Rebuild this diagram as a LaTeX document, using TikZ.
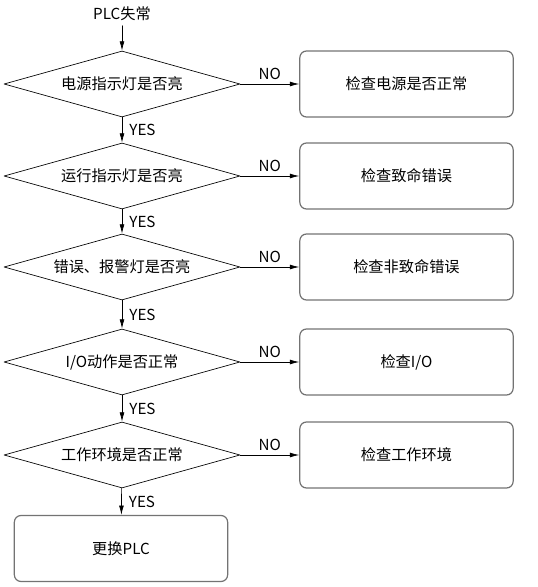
\documentclass[tikz,border=0pt]{standalone}
\usepackage{fontspec}
\setmainfont{Noto Sans CJK SC}
\usepackage{tikz}
\usetikzlibrary{shapes.geometric}
\usetikzlibrary{arrows.meta}
\definecolor{ggggbb}{rgb}{0.45,0.45,0.45}
\tikzstyle{every node}=[font=\fontsize{11.4}{13}\selectfont]

\begin{document}
\begin{tikzpicture}[line cap=round,line join=round,>={Latex[length=7pt,width=3.6pt]},x=0.75pt,y=0.75pt,
  test/.style={diamond,aspect=3.6,draw=black,line width=0.5pt,inner sep=0pt,minimum width=177pt,minimum height=49.5pt},
  check/.style={rectangle,draw=ggggbb,line width=0.9pt,rounded corners=5pt,minimum width=160pt,minimum height=49.5pt},
  flow/.style={->,line width=0.5pt}]
            \useasboundingbox (0,0) rectangle (537,587);
            % start
            \node (start) at (122,573) {PLC失常};
            % tests
            \node [test] (t1) at (122,503) {电源指示灯是否亮};
            \node [test] (t2) at (122,411) {运行指示灯是否亮};
            \node [test] (t3) at (122,320) {错误、报警灯是否亮};
            \node [test] (t4) at (122,225) {I/O动作是否正常};
            \node [test] (t5) at (122,132) {工作环境是否正常};
            % checks
            \node [check] (c1) at (406.5,503) {检查电源是否正常};
            \node [check] (c2) at (406.5,411) {检查致命错误};
            \node [check] (c3) at (406.5,320) {检查非致命错误};
            \node [check] (c4) at (406.5,225) {检查I/O};
            \node [check] (c5) at (406.5,132) {检查工作环境};
            \node [check] (swap) at (121,38.5) {更换PLC};
            % connectors
            \draw [flow] (start) -- (t1);
            \draw [flow] (t1) -- (t2) node [midway,right,xshift=2pt] {YES};
            \draw [flow] (t2) -- (t3) node [midway,right,xshift=2pt] {YES};
            \draw [flow] (t3) -- (t4) node [midway,right,xshift=2pt] {YES};
            \draw [flow] (t4) -- (t5) node [midway,right,xshift=2pt] {YES};
            \draw [flow] (t5) -- (swap) node [midway,right,xshift=2pt] {YES};
            \draw [flow] (t1) -- (c1) node [midway,above] {NO};
            \draw [flow] (t2) -- (c2) node [midway,above] {NO};
            \draw [flow] (t3) -- (c3) node [midway,above] {NO};
            \draw [flow] (t4) -- (c4) node [midway,above] {NO};
            \draw [flow] (t5) -- (c5) node [midway,above] {NO};
            \end{tikzpicture}
\end{document}
